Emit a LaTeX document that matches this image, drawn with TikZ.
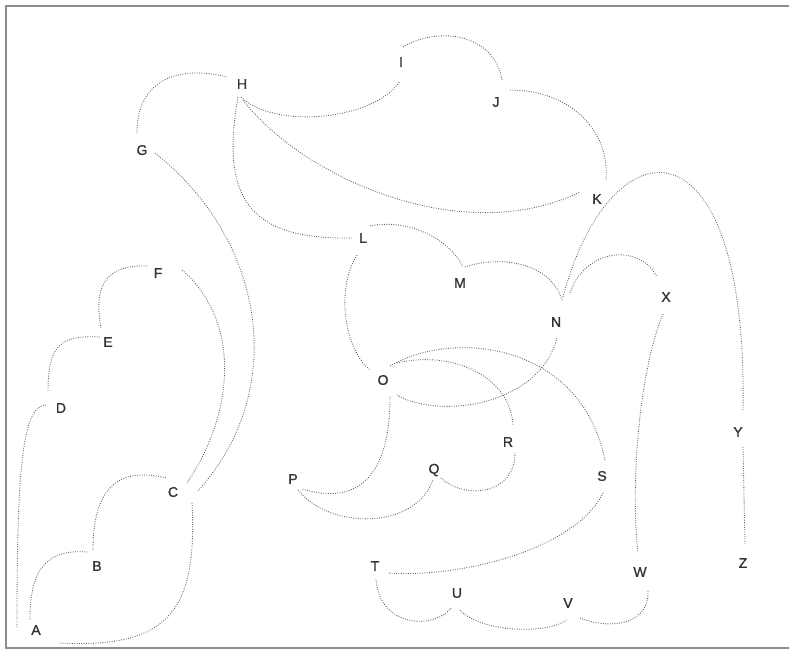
\documentclass[tikz,border=0pt]{standalone}
\usepackage{fontspec}
\setmainfont{Liberation Sans}
\newfontfamily\lblfont[FakeBold=1.2]{Liberation Sans}
\begin{document}
\begin{tikzpicture}[x=1pt,y=-1pt,
  lbl/.style={font=\lblfont\fontsize{14}{14}\selectfont, text=black!80, inner sep=0pt},
  edge/.style={draw=black!65, line width=0.85pt, dash pattern=on 0.85pt off 1.5pt},
  frame/.style={draw=black!45, line width=2pt}]
\useasboundingbox (0,0) rectangle (789,651);
\draw[frame] (789,6) -- (6,6) -- (6,648) -- (789,648);
% nodes
\node[lbl] (A) at (36,630) {A};
\node[lbl] (B) at (97,566) {B};
\node[lbl] (C) at (173,492) {C};
\node[lbl] (D) at (61,408) {D};
\node[lbl] (E) at (108,342) {E};
\node[lbl] (F) at (158,273) {F};
\node[lbl] (G) at (142,150) {G};
\node[lbl] (H) at (242,84) {H};
\node[lbl] (I) at (401,62) {I};
\node[lbl] (J) at (496,102) {J};
\node[lbl] (K) at (597,199) {K};
\node[lbl] (L) at (363,238) {L};
\node[lbl] (M) at (460,283) {M};
\node[lbl] (N) at (556,322) {N};
\node[lbl] (O) at (383,380) {O};
\node[lbl] (P) at (293,479) {P};
\node[lbl] (Q) at (434,470) {Q};
\node[lbl] (R) at (508,442) {R};
\node[lbl] (S) at (602,476) {S};
\node[lbl] (T) at (375,566) {T};
\node[lbl] (U) at (457,593) {U};
\node[lbl] (V) at (568,603) {V};
\node[lbl] (W) at (640,572) {W};
\node[lbl] (X) at (666,297) {X};
\node[lbl] (Y) at (738,432) {Y};
\node[lbl] (Z) at (743,563) {Z};
% connectors
\draw[edge] ([shift={(-6,-11)}]A.center) .. controls +(0,-54) and +(-38,-3) .. ([shift={(-9,-14)}]B.center);
\draw[edge] ([shift={(-4,-16)}]B.center) .. controls +(0,-70) and +(-42,-10) .. ([shift={(-6,-14)}]C.center);
\draw[edge] ([shift={(19,11)}]C.center) .. controls +(6,112) and +(105,5) .. ([shift={(24,13)}]A.center);
\draw[edge] ([shift={(-15,-3)}]D.center) .. controls +(-25,0) and +(0,-147) .. ([shift={(-19,-3)}]A.center);
\draw[edge] ([shift={(-8,-5)}]E.center) .. controls +(-40,-2) and +(0,-47) .. ([shift={(-13,-16)}]D.center);
\draw[edge] ([shift={(-11,-7)}]F.center) .. controls +(-52,-2) and +(-5,-28) .. ([shift={(-7,-14)}]E.center);
\draw[edge] ([shift={(24,-3)}]F.center) .. controls +(58,50) and +(49,-73) .. ([shift={(14,-9)}]C.center);
\draw[edge] ([shift={(13,3)}]G.center) .. controls +(110,87) and +(93,-102) .. ([shift={(24,0)}]C.center);
\draw[edge] ([shift={(-5,-17)}]G.center) .. controls +(0,-58) and +(-42,-11) .. ([shift={(-15,-7)}]H.center);
\draw[edge] ([shift={(-1,13)}]H.center) .. controls +(34,33) and +(-25,39) .. ([shift={(-1,19)}]I.center);
\draw[edge] ([shift={(1,16)}]H.center) .. controls +(57,75) and +(-120,58) .. ([shift={(-17,-7)}]K.center);
\draw[edge] ([shift={(-4,13)}]H.center) .. controls +(-18,103) and +(-103,2) .. ([shift={(-10,0)}]L.center);
\draw[edge] ([shift={(2,-15)}]I.center) .. controls +(37,-22) and +(-7,-45) .. ([shift={(6,-22)}]J.center);
\draw[edge] ([shift={(14,-12)}]J.center) .. controls +(60,0) and +(4,-50) .. ([shift={(9,-19)}]K.center);
\draw[edge] ([shift={(7,-12)}]L.center) .. controls +(40,-8) and +(-13,-27) .. ([shift={(3,-16)}]M.center);
\draw[edge] ([shift={(5,-16)}]M.center) .. controls +(35,-12) and +(-12,-38) .. ([shift={(6,-22)}]N.center);
\draw[edge] ([shift={(7,-25)}]N.center) .. controls +(47,-177) and +(5,-300) .. ([shift={(5,-22)}]Y.center);
\draw[edge] ([shift={(14,-29)}]N.center) .. controls +(15,-45) and +(-17,-34) .. ([shift={(-9,-20)}]X.center);
\draw[edge] ([shift={(1,16)}]N.center) .. controls +(-17,67) and +(43,25) .. ([shift={(14,15)}]O.center);
\draw[edge] ([shift={(-6,17)}]L.center) .. controls +(-22,35) and +(-25,-20) .. ([shift={(-13,-10)}]O.center);
\draw[edge] ([shift={(7,-14)}]O.center) .. controls +(60,-36) and +(-25,-120) .. ([shift={(3,-16)}]S.center);
\draw[edge] ([shift={(14,-17)}]O.center) .. controls +(53,-13) and +(-3,-50) .. ([shift={(5,-17)}]R.center);
\draw[edge] ([shift={(7,17)}]O.center) .. controls +(0,83) and +(53,16) .. ([shift={(9,10)}]P.center);
\draw[edge] ([shift={(5,11)}]P.center) .. controls +(32,40) and +(-18,50) .. ([shift={(-1,10)}]Q.center);
\draw[edge] ([shift={(7,8)}]Q.center) .. controls +(24,22) and +(0,42) .. ([shift={(7,11)}]R.center);
\draw[edge] ([shift={(1,17)}]S.center) .. controls +(-28,57) and +(72,5) .. ([shift={(13,7)}]T.center);
\draw[edge] ([shift={(1,14)}]T.center) .. controls +(4,48) and +(-17,23) .. ([shift={(-5,14)}]U.center);
\draw[edge] ([shift={(3,17)}]U.center) .. controls +(20,22) and +(-22,15) .. ([shift={(-1,17)}]V.center);
\draw[edge] ([shift={(12,15)}]V.center) .. controls +(30,12) and +(2,35) .. ([shift={(8,18)}]W.center);
\draw[edge] ([shift={(-3,17)}]X.center) .. controls +(-23,55) and +(-8,-73) .. ([shift={(-2,-19)}]W.center);
\draw[edge] ([shift={(5,15)}]Y.center) -- ([shift={(2,-18)}]Z.center);
\end{tikzpicture}
\end{document}
